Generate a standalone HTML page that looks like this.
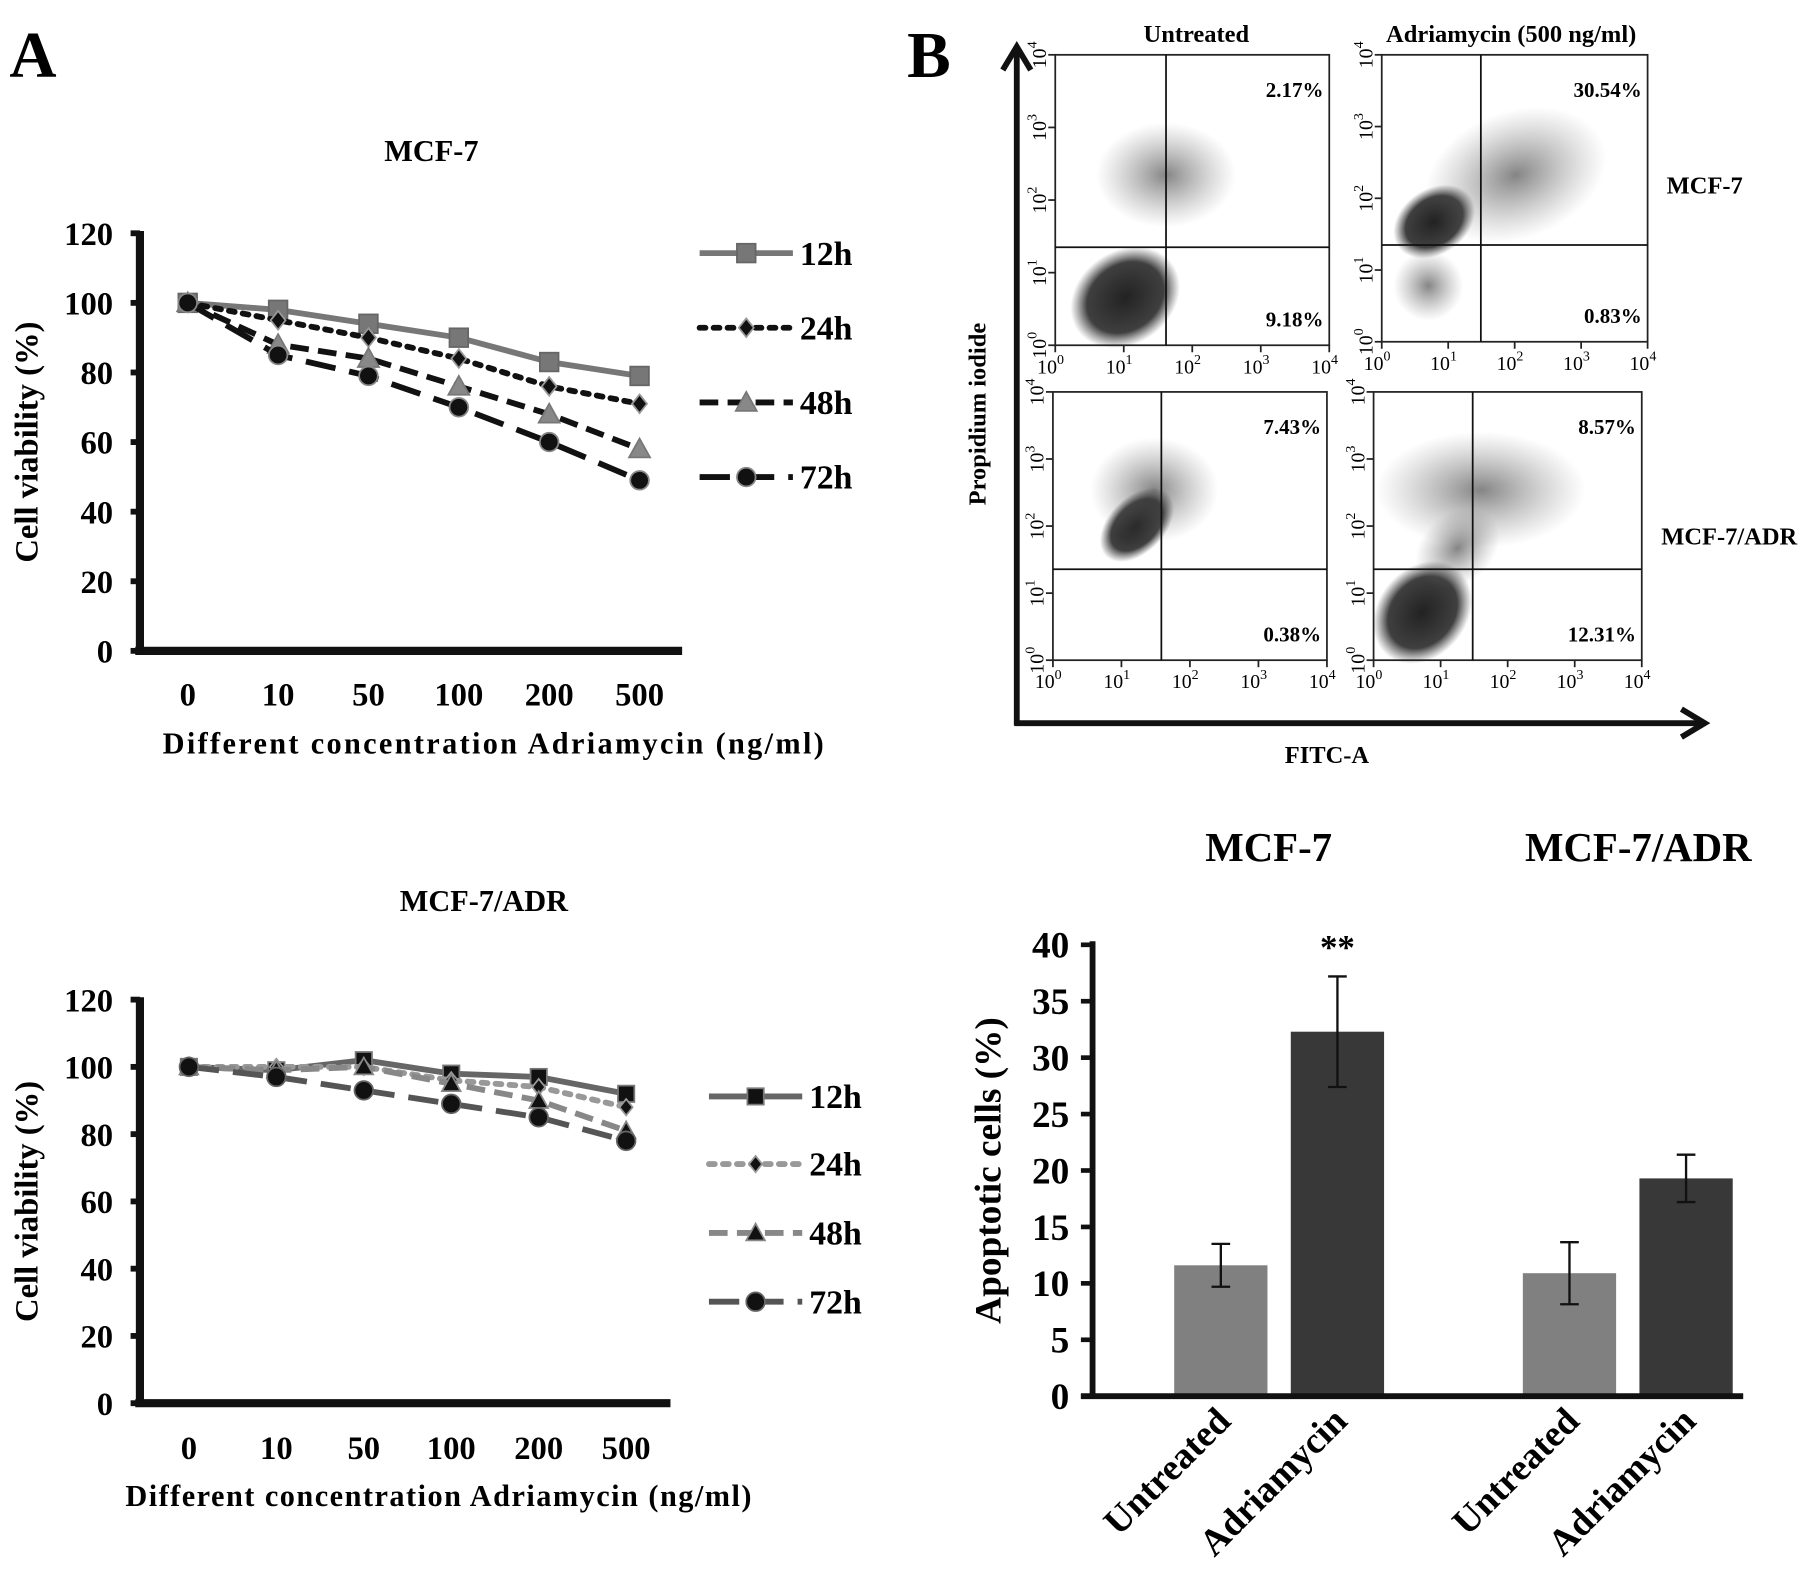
<!DOCTYPE html>
<html><head><meta charset="utf-8"><style>
html,body{margin:0;padding:0;background:#fff}
svg{display:block;font-family:"Liberation Serif",serif;font-weight:bold}
</style></head><body>
<svg id="fig" width="1819" height="1584" viewBox="0 0 1560 1358" preserveAspectRatio="none" xmlns="http://www.w3.org/2000/svg">
<defs>
<radialGradient id="cloud"><stop offset="0" stop-color="#222" stop-opacity="1"/><stop offset="0.7" stop-color="#2a2a2a" stop-opacity="0.9"/><stop offset="1" stop-color="#444" stop-opacity="0"/></radialGradient>
<radialGradient id="sparse"><stop offset="0" stop-color="#333" stop-opacity="0.6"/><stop offset="1" stop-color="#666" stop-opacity="0"/></radialGradient>
</defs>
<text x="8" y="66" font-size="56">A</text>
<text x="778" y="66" font-size="56">B</text>
<g id="lineA1"></g><g id="lineA2"></g><g id="flow"></g><g id="bars"></g>
</svg>
<script>
const NS='http://www.w3.org/2000/svg';
function mk(p,t,a,txt){const e=document.createElementNS(NS,t);for(const k in a)e.setAttribute(k,a[k]);if(txt!==undefined)e.textContent=txt;p.appendChild(e);return e;}

// ---- line chart data ----
const concLabels=['0','10','50','100','200','500'];
const yTicksLine=[0,20,40,60,80,100,120];
const seriesNames=['12 h','24 h','48 h','72 h'];
const mcf7_12h=[100,98,94,90,83,79];
const mcf7_24h=[100,95,90,84,76,71];
const mcf7_48h=[100,88,84,76,68,58];
const mcf7_72h=[100,85,79,70,60,49];
const adr_12h=[100,99,102,98,97,92];
const adr_24h=[100,100,100,96,94,88];
const adr_48h=[100,99,100,95,90,81];
const adr_72h=[100,97,93,89,85,78];

// ---- bar chart data ----
const barGroups=['MCF-7','MCF-7/ADR'];
const barCats=['Untreated','Adriamycin'];
const barValues=[11.6,32.3,10.9,19.3];
const barErrors=[1.9,4.9,2.75,2.1];
const barTicks=[0,5,10,15,20,25,30,35,40];

function lineChart(g,cfg){
  const {x0,x1,yTop,yBot,cats,title,titleX,titleY,legendY,legendX,styles,data,nameP,labelY,xTitleY,xTitleX,xTitleW}=cfg;
  const ys=v=>yBot-(v/120)*(yBot-yTop);
  const xs=i=>cats[0]+i*(cats[1]-cats[0]);
  let t=mk(g,'text',{x:titleX,y:titleY,'font-size':26,'text-anchor':'middle'},title);
  
  let a=mk(g,'line',{x1:x0,y1:yTop-2,x2:x0,y2:yBot+3,stroke:'#111','stroke-width':7});
  
  a=mk(g,'line',{x1:x0-4,y1:yBot,x2:x1,y2:yBot,stroke:'#111','stroke-width':7});
  
  yTicksLine.forEach(v=>{
    mk(g,'line',{x1:x0-8,y1:ys(v),x2:x0,y2:ys(v),stroke:'#111','stroke-width':5});
    const l=mk(g,'text',{x:x0-23,y:ys(v)+10,'font-size':28,'text-anchor':'end'},v);
    
  });
  concLabels.forEach((c,i)=>{
    const l=mk(g,'text',{x:xs(i),y:labelY,'font-size':28,'text-anchor':'middle'},c);
    
  });
  t=mk(g,'text',{x:xTitleX-xTitleW/2,y:xTitleY,'font-size':26,textLength:xTitleW,lengthAdjust:'spacing'},'Different  concentration Adriamycin  (ng/ml)');
  
  t=mk(g,'text',{x:0,y:0,'font-size':28,'text-anchor':'middle',transform:`translate(${x0-88},${(yTop+yBot)/2}) rotate(-90)`},'Cell viability (%)');
  
  const marker=(p,type,x,y,fill,edge,r)=>{
    if(type==='sq')return mk(p,'rect',{x:x-r,y:y-r,width:2*r,height:2*r,fill,stroke:edge,'stroke-width':1.5});
    if(type==='di')return mk(p,'polygon',{points:`${x},${y-r} ${x+r*0.8},${y} ${x},${y+r} ${x-r*0.8},${y}`,fill,stroke:edge,'stroke-width':1.5});
    if(type==='tr')return mk(p,'polygon',{points:`${x},${y-r} ${x+r},${y+r*0.8} ${x-r},${y+r*0.8}`,fill,stroke:edge,'stroke-width':1.5});
    return mk(p,'circle',{cx:x,cy:y,r,fill,stroke:edge,'stroke-width':1.5});
  };
  data.forEach((arr,s)=>{
    const st=styles[s];
    const sg=mk(g,'g',{});
    
    
    mk(sg,'polyline',{points:arr.map((v,i)=>xs(i)+','+ys(v)).join(' '),fill:'none',stroke:st.c,'stroke-width':st.w,'stroke-dasharray':st.d,'stroke-linecap':st.cap||'butt'});
    arr.forEach((v,i)=>{const m=marker(sg,st.m,xs(i),ys(v),st.f,st.e,st.r);
      });
    const ly=legendY[s];
    const lg=mk(g,'g',{});
    
    
    mk(lg,'line',{x1:legendX,y1:ly,x2:legendX+80,y2:ly,stroke:st.c,'stroke-width':st.w,'stroke-dasharray':st.d,'stroke-linecap':st.cap||'butt'});
    marker(lg,st.m,legendX+40,ly,st.f,st.e,st.r);
    mk(lg,'text',{x:legendX+86,y:ly+10,'font-size':29},seriesNames[s].replace(' ',''));
  });
}
lineChart(document.getElementById('lineA1'),{x0:120,x1:585,yTop:200,yBot:558,cats:[161,238.5],title:'MCF-7',titleX:370,titleY:138,
  legendY:[217,281,345,409],legendX:600,labelY:605,xTitleY:646,xTitleX:423,xTitleW:567,nameP:'mcf7-viability',
  data:[mcf7_12h,mcf7_24h,mcf7_48h,mcf7_72h],
  styles:[{c:'#777',w:5,d:'',m:'sq',f:'#777',e:'#666',r:8},
          {c:'#111',w:5,d:'5 7',m:'di',f:'#111',e:'#999',r:8,cap:'round'},
          {c:'#111',w:5,d:'16 8',m:'tr',f:'#888',e:'#777',r:9},
          {c:'#111',w:5,d:'26 12',m:'ci',f:'#111',e:'#888',r:8}]});
lineChart(document.getElementById('lineA2'),{x0:120,x1:575,yTop:857,yBot:1203,cats:[162,237],title:'MCF-7/ADR',titleX:415,titleY:781,
  legendY:[940,998,1057,1116],legendX:608,labelY:1251,xTitleY:1291,xTitleX:376,xTitleW:537,nameP:'adr-viability',
  data:[adr_12h,adr_24h,adr_48h,adr_72h],
  styles:[{c:'#666',w:5,d:'',m:'sq',f:'#111',e:'#777',r:7},
          {c:'#999',w:5,d:'5 7',m:'di',f:'#111',e:'#999',r:7,cap:'round'},
          {c:'#888',w:5,d:'16 8',m:'tr',f:'#111',e:'#888',r:8},
          {c:'#555',w:5,d:'26 12',m:'ci',f:'#111',e:'#666',r:8}]});

// ---- flow cytometry panels ----
const quadLabels=[['2.17%','9.18%'],['30.54%','0.83%'],['7.43%','0.38%'],['8.57%','12.31%']];
const logTicks=['0','1','2','3','4'];
(function(){
  const g=document.getElementById('flow');
  let e=mk(g,'polyline',{points:'872,622 872,42',fill:'none',stroke:'#111','stroke-width':5});
  
  mk(g,'polyline',{points:'860,60 872,40 884,60',fill:'none',stroke:'#111','stroke-width':5});
  e=mk(g,'polyline',{points:'870,620 1460,620',fill:'none',stroke:'#111','stroke-width':5});
  
  mk(g,'polyline',{points:'1442,608 1462,620 1442,632',fill:'none',stroke:'#111','stroke-width':5});
  const T=(x,y,s,txt,n,anchor,tr)=>{const t=mk(g,'text',{x,y,'font-size':s,'text-anchor':anchor||'middle',transform:tr||''},txt);
    return t;};
  T(1026,36,21,'Untreated','col-label-untreated');
  T(1296,36,21,'Adriamycin (500 ng/ml)','col-label-adriamycin');
  T(1462,166,21,'MCF-7','row-label-mcf7');
  T(1483,467,21,'MCF-7/ADR','row-label-adr');
  T(1138,654,21,'FITC-A','x-axis-title-fitc');
  T(0,0,21,'Propidium iodide','y-axis-title-pi','middle','translate(845,355) rotate(-90)');
  const boxes=[[905,47,1140,296,1000,212],[1185,47,1413,293,1270,210],[903,336,1138,566,996,488],[1178,336,1408,566,1263,488]];
  const clouds=[
    [[965,255,50,40,-35,'cloud'],[1000,150,60,45,0,'sparse']],
    [[1230,190,38,28,-35,'cloud'],[1300,150,80,55,-20,'sparse'],[1225,245,30,30,0,'sparse']],
    [[975,450,38,24,-45,'cloud'],[990,420,55,45,0,'sparse']],
    [[1220,525,48,38,-50,'cloud'],[1270,420,90,50,0,'sparse'],[1250,470,40,30,-40,'sparse']]];
  boxes.forEach((b,k)=>{
    const [x0,y0,x1,y1,qx,qy]=b;
    const pg=mk(g,'g',{});
    
    
    clouds[k].forEach(c=>mk(pg,'ellipse',{cx:c[0],cy:c[1],rx:c[2],ry:c[3],fill:`url(#${c[5]})`,transform:`rotate(${c[4]} ${c[0]} ${c[1]})`}));
    mk(pg,'rect',{x:x0,y:y0,width:x1-x0,height:y1-y0,fill:'none',stroke:'#222','stroke-width':1.5});
    mk(pg,'line',{x1:qx,y1:y0,x2:qx,y2:y1,stroke:'#111','stroke-width':1.5});
    mk(pg,'line',{x1:x0,y1:qy,x2:x1,y2:qy,stroke:'#111','stroke-width':1.5});
    const tUp=mk(pg,'text',{x:x1-5,y:y0+36,'font-size':18,'text-anchor':'end'},quadLabels[k][0]);
    
    const tLo=mk(pg,'text',{x:x1-5,y:y1-16,'font-size':18,'text-anchor':'end'},quadLabels[k][1]);
    
    logTicks.forEach((p,i)=>{
      const x=x0+i*(x1-x0)/4, y=y1-i*(y1-y0)/4;
      const tx=mk(pg,'text',{x:x-4,y:y1+24,'font-size':17,'font-weight':'normal','text-anchor':'middle'},'10');
      mk(tx,'tspan',{dy:-8,'font-size':12},p);
      const ty=mk(pg,'text',{x:0,y:0,'font-size':17,'font-weight':'normal','text-anchor':'middle',transform:`translate(${x0-8},${y}) rotate(-90)`},'10');
      mk(ty,'tspan',{dy:-8,'font-size':12},p);
      mk(pg,'line',{x1:x,y1:y1,x2:x,y2:y1+6,stroke:'#222','stroke-width':1.5});
      mk(pg,'line',{x1:x0-6,y1:y,x2:x0,y2:y,stroke:'#222','stroke-width':1.5});
    });
  });
})();

// ---- bar chart ----
(function(){
  const g=document.getElementById('bars');
  const x0=937,x1=1495,yTop=810,yBot=1197;
  const ys=v=>yBot-(v/40)*(yBot-yTop);
  const barLeft=[1007,1107,1306,1406], bw=80;
  let t;
  [1088,1405].forEach((x,i)=>{t=mk(g,'text',{x,y:738,'font-size':35,'text-anchor':'middle'},barGroups[i]);
    });
  barValues.forEach((v,i)=>{
    const r=mk(g,'rect',{x:barLeft[i],y:ys(v),width:bw,height:yBot-ys(v),fill:i%2?'#383838':'#808080'});
    
    
    const cx=barLeft[i]+bw/2, hi=ys(v+barErrors[i]), lo=ys(v-barErrors[i]);
    const eb=mk(g,'path',{d:`M${cx},${hi}V${lo}M${cx-8},${hi}H${cx+8}M${cx-8},${lo}H${cx+8}`,stroke:'#111','stroke-width':2,fill:'none'});
    
    t=mk(g,'text',{x:0,y:0,'font-size':32,'text-anchor':'end',transform:`translate(${cx+10},${1220}) rotate(-45)`},barCats[i%2]);
    
  });
  let a=mk(g,'line',{x1:x0,y1:yTop-3,x2:x0,y2:yBot+2,stroke:'#111','stroke-width':5});
  
  a=mk(g,'line',{x1:x0-10,y1:yBot,x2:x1,y2:yBot,stroke:'#111','stroke-width':5});
  
  barTicks.forEach(v=>{
    mk(g,'line',{x1:x0-10,y1:ys(v),x2:x0,y2:ys(v),stroke:'#111','stroke-width':4});
    const l=mk(g,'text',{x:x0-20,y:ys(v)+11,'font-size':32,'text-anchor':'end'},v);
    
  });
  t=mk(g,'text',{x:0,y:0,'font-size':32,'text-anchor':'middle',transform:`translate(858,${(yTop+yBot)/2}) rotate(-90)`},'Apoptotic cells (%)');
  
  t=mk(g,'text',{x:1147,y:822,'font-size':30,'text-anchor':'middle'},'**');
  
})();
</script>
</body></html>
